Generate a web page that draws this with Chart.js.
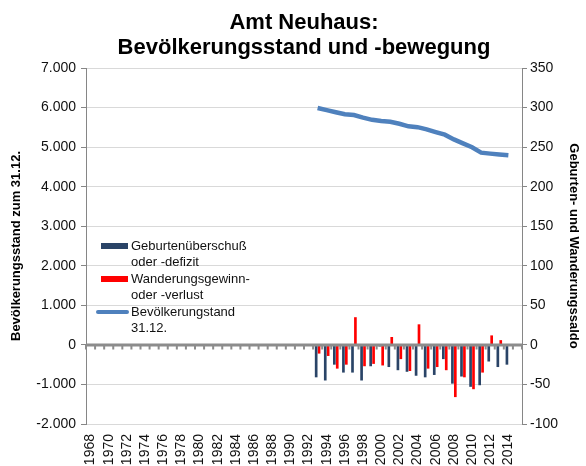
<!DOCTYPE html>
<html>
<head>
<meta charset="utf-8">
<script src="https://cdn.jsdelivr.net/npm/chart.js@4.4.0/dist/chart.umd.min.js"></script>
<style>
  body { margin: 0; background: #fff; }
  #wrap { position: relative; width: 586px; height: 466px; }
  #legend { position: absolute; left: 0; top: 0; font: 13px "Liberation Sans", Arial, sans-serif; color: #111; }
  .item { position: absolute; left: 131px; line-height: 16.2px; white-space: nowrap; }
  .swatch { position: absolute; }
</style>
</head>
<body>
<div id="wrap">
  <canvas id="chart" width="586" height="466"></canvas>
  <div id="legend">
    <div class="swatch" style="left:101px;top:243px;width:27px;height:6px;background:#2a4467"></div>
    <div class="item" style="top:238px">Geburtenüberschuß<br>oder -defizit</div>
    <div class="swatch" style="left:101px;top:276px;width:27px;height:6px;background:#ff0000"></div>
    <div class="item" style="top:271px">Wanderungsgewinn-<br>oder -verlust</div>
    <div class="swatch" style="left:96px;top:310px;width:33px;height:4px;border-radius:2px;background:#4f81bd"></div>
    <div class="item" style="top:304px">Bevölkerungstand<br>31.12.</div>
  </div>
</div>
<script>
// categories: every year, labels shown for every second one
const years = [1968, 1969, 1970, 1971, 1972, 1973, 1974, 1975, 1976, 1977,
  1978, 1979, 1980, 1981, 1982, 1983, 1984, 1985, 1986, 1987,
  1988, 1989, 1990, 1991, 1992, 1993, 1994, 1995, 1996, 1997,
  1998, 1999, 2000, 2001, 2002, 2003, 2004, 2005, 2006, 2007,
  2008, 2009, 2010, 2011, 2012, 2013, 2014, 2015];

// series start in 1993
const firstYear = 1993;
const population = [5990, 5935, 5880, 5830, 5810, 5745, 5690, 5660, 5640, 5590, 5525,
  5505, 5450, 5380, 5315, 5195, 5095, 4995, 4860, 4835, 4815, 4795];
const naturalChange = [-41, -45, -25, -35, -35, -45, -27, -2, -28, -32, -34,
  -39, -41, -38, -18, -49, -40, -53, -51, -21, -28, -25];
const migration = [-11, -14, -30, -25, 35, -27, -24, -26, 10, -18, -33,
  26, -30, -28, -32, -66, -41, -56, -35, 12, 6, 0];

// left and right axis ticks
const leftTicks = [-2000, -1000, 0, 1000, 2000, 3000, 4000, 5000, 6000, 7000];
const rightTicks = [-100, -50, 0, 50, 100, 150, 200, 250, 300, 350];

// put a series on the year axis (null where there is no value)
function alignToYears(values) {
  return years.map(y => {
    const i = y - firstYear;
    return i >= 0 && i < values.length ? values[i] : null;
  });
}

function fmt(v) {
  const s = Math.abs(v).toString().replace(/\B(?=(\d{3})+(?!\d))/g, ".");
  return (v < 0 ? "-" : "") + s;
}

// thick grey zero line with category tick marks
const zeroLine = {
  id: "zeroLine",
  afterDatasetsDraw(chart) {
    const { ctx, chartArea, scales } = chart;
    const y0 = scales.y.getPixelForValue(0);
    const x = scales.x;
    const half = (x.getPixelForValue(1) - x.getPixelForValue(0)) / 2;
    ctx.save();
    ctx.strokeStyle = "#8c8c8c";
    ctx.lineWidth = 3;
    ctx.beginPath();
    ctx.moveTo(chartArea.left, y0);
    ctx.lineTo(chartArea.right, y0);
    ctx.stroke();
    ctx.lineWidth = 2;
    ctx.beginPath();
    for (let i = 0; i <= years.length; i++) {
      const px = x.getPixelForValue(i) - half;
      ctx.moveTo(px, y0);
      ctx.lineTo(px, y0 + 4.5);
    }
    ctx.stroke();
    ctx.restore();
  }
};

const font = { family: "'Liberation Sans', Arial, sans-serif", size: 14 };

new Chart(document.getElementById("chart"), {
  data: {
    labels: years,
    datasets: [
      {
        type: "line",
        label: "Bevölkerungstand 31.12.",
        data: alignToYears(population),
        yAxisID: "y",
        borderColor: "#4f81bd",
        borderWidth: 4.5,
        pointRadius: 0,
        tension: 0,
        order: 0
      },
      {
        type: "bar",
        label: "Geburtenüberschuß oder -defizit",
        data: alignToYears(naturalChange),
        yAxisID: "y2",
        backgroundColor: "#2a4467",
        categoryPercentage: 0.64,
        barPercentage: 0.92,
        order: 1
      },
      {
        type: "bar",
        label: "Wanderungsgewinn- oder -verlust",
        data: alignToYears(migration),
        yAxisID: "y2",
        backgroundColor: "#ff0000",
        categoryPercentage: 0.64,
        barPercentage: 0.92,
        order: 1
      }
    ]
  },
  options: {
    responsive: false,
    animation: false,
    layout: { padding: 0 },
    plugins: {
      legend: { display: false },
      tooltip: { enabled: false },
      title: {
        display: true,
        fullSize: false,
        text: ["Amt Neuhaus:", "Bevölkerungsstand und -bewegung"],
        color: "#000",
        font: { family: font.family, size: 22, weight: "bold", lineHeight: 1.15 },
        padding: { top: 10, bottom: 7.4 }
      }
    },
    scales: {
      x: {
        offset: true,
        grid: { display: false },
        border: { display: false },
        ticks: {
          autoSkip: false,
          maxRotation: 90,
          minRotation: 90,
          padding: 2,
          color: "#111",
          font: font,
          callback: (v, i) => (i % 2 === 0 && years[i] <= 2014 ? String(years[i]) : "")
        },
        afterFit: s => { s.height = 42; }
      },
      y: {
        position: "left",
        min: leftTicks[0],
        max: leftTicks[leftTicks.length - 1],
        afterBuildTicks: s => { s.ticks = leftTicks.map(v => ({ value: v })); },
        grid: { color: "#d9d9d9", tickColor: "#868686", tickLength: 5 },
        border: { color: "#868686" },
        ticks: { color: "#111", font: font, padding: 5, callback: v => fmt(v) },
        title: {
          display: true,
          text: "Bevölkerungsstand zum 31.12.",
          color: "#000",
          font: { family: font.family, size: 13, weight: "bold" },
          padding: { top: 9, bottom: 0 }
        },
        afterFit: s => { s.width = 86; }
      },
      y2: {
        position: "right",
        min: rightTicks[0],
        max: rightTicks[rightTicks.length - 1],
        afterBuildTicks: s => { s.ticks = rightTicks.map(v => ({ value: v })); },
        grid: { drawOnChartArea: false, tickColor: "#868686", tickLength: 5 },
        border: { color: "#868686" },
        ticks: { color: "#111", font: font, padding: 3 },
        title: {
          display: true,
          text: "Geburten- und Wanderungssaldo",
          color: "#000",
          font: { family: font.family, size: 13, weight: "bold" },
          padding: { top: 5, bottom: 0 }
        },
        afterFit: s => { s.width = 64; }
      }
    }
  },
  plugins: [zeroLine]
});
</script>
</body>
</html>
